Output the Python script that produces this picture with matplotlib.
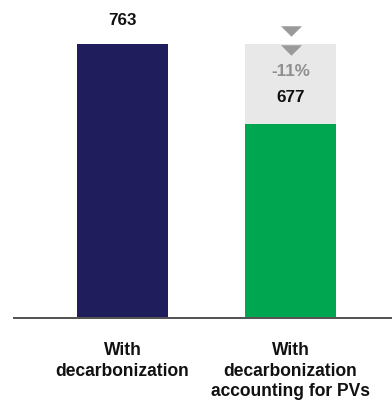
import matplotlib.pyplot as plt
from matplotlib.path import Path
from matplotlib.transforms import ScaledTranslation

# data
categories = ['With\ndecarbonization', 'With\ndecarbonization\naccounting for PVs']
values = [763, 677]
change_label = '-11%'
bar_colors = ['#1f1d5b', '#00a650']

plt.rcParams['font.family'] = ['Liberation Sans', 'DejaVu Sans']

fig = plt.figure(figsize=(392 / 72, 401 / 72), dpi=72)
ax = fig.add_axes([14 / 392, 83 / 401, 378 / 392, 318 / 401])

x = list(range(len(values)))
ax.bar(x, values, width=0.542, color=bar_colors, zorder=2)

# grey gap box on second bar, up to first bar level
ax.bar(x[1], values[0] - values[1], bottom=values[1], width=0.542,
       color='#e8e8e8', zorder=1)

ax.set_xlim(-0.646, 1.604)
ax.set_ylim(466, 811.3)

# value labels
ax.annotate(str(values[0]), (x[0], values[0]), xytext=(0, 24), textcoords='offset points',
            ha='center', va='center', fontsize=17, fontweight='bold', color='#111111')
ax.annotate(str(values[1]), (x[1], values[1]), xytext=(0, 26), textcoords='offset points',
            ha='center', va='center', fontsize=17, fontweight='bold', color='#111111')
ax.annotate(change_label, (x[1], values[0]), xytext=(0, -27), textcoords='offset points',
            ha='center', va='center', fontsize=17, fontweight='bold', color='#8f8f8f')

# down arrows
tri = Path([(-1, 0.5), (1, 0.5), (0, -0.5), (-1, 0.5)],
           [Path.MOVETO, Path.LINETO, Path.LINETO, Path.CLOSEPOLY])
for off in (13.5, -5.5):
    ax.plot([x[1]], [values[0]], marker=tri, ms=21, color='#9a9a9a', mew=0, zorder=3,
            transform=ax.transData + ScaledTranslation(0, off / 72, fig.dpi_scale_trans))

for s in ['top', 'right', 'left']:
    ax.spines[s].set_visible(False)
ax.spines['bottom'].set_color('#555555')
ax.spines['bottom'].set_linewidth(2)
ax.set_yticks([])
ax.set_xticks(x)
ax.set_xticklabels(categories, fontsize=17.5, fontweight='bold', color='#111111',
                   linespacing=1.27)
ax.tick_params(axis='x', length=0, pad=24)

fig.savefig('out.png', dpi=72)
